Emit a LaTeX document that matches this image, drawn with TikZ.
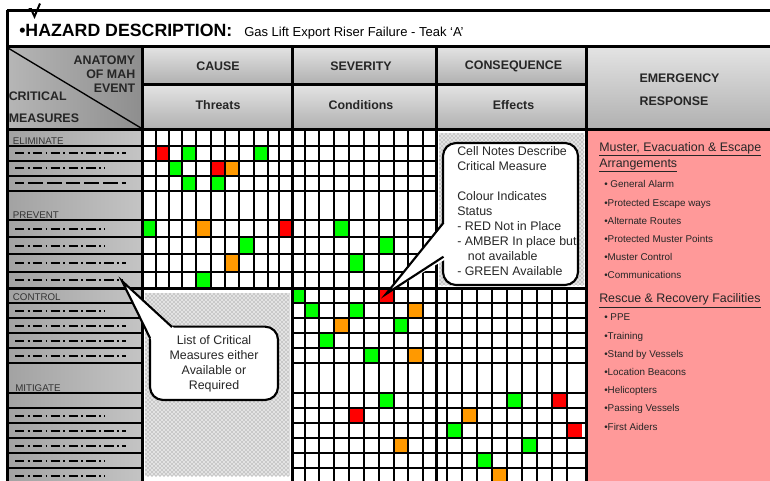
\documentclass[tikz,border=0pt]{standalone}
\usepackage{fontspec}
\setmainfont{Liberation Sans}
\usetikzlibrary{patterns}

\definecolor{hdrlight}{HTML}{E4E4E4}
\definecolor{hdrdark}{HTML}{B0B0B0}
\definecolor{sidelight}{HTML}{C4C4C4}
\definecolor{sidedark}{HTML}{A2A2A2}
\definecolor{cornerlight}{HTML}{B6B6B6}
\definecolor{cornerdark}{HTML}{8E8E8E}
\definecolor{erpink}{HTML}{FF9999}
\definecolor{stRed}{HTML}{FF0000}
\definecolor{stAmber}{HTML}{FF9900}
\definecolor{stGreen}{HTML}{00FF00}
\definecolor{sidetext}{HTML}{333333}

\tikzset{
  gridln/.style={line width=1.5pt},
  heavy/.style={line width=2.25pt},
  hdr/.style={inner sep=0pt, font=\fontsize{9.3}{10.5}\selectfont\bfseries, text=black!85},
  sidelabel/.style={anchor=base west, inner sep=0pt, font=\fontsize{7.3}{9}\selectfont, text=sidetext},
  ddash/.style={line width=1.5pt, dash pattern=on 7pt off 2.5pt on 1.4pt off 2.5pt},
  ldash/.style={line width=1.5pt, dash pattern=on 11pt off 3pt, dash phase=4pt},
  ertitle/.style={anchor=base west, inner sep=0pt, font=\fontsize{9.3}{11}\selectfont, text=black!85},
  eritem/.style={anchor=base west, inner sep=0pt, font=\fontsize{7.4}{9}\selectfont, text=black!85},
  note/.style={draw, line width=1.6pt, fill=white, rounded corners=9.75pt},
  notetext/.style={font=\fontsize{9.3}{11.25}\selectfont, text=black!85},
  stipple/.style={pattern=crosshatch dots, pattern color=gray!90!black},
}

\begin{document}
\begin{tikzpicture}[x=0.75pt,y=-0.75pt]

\useasboundingbox (0,0) rectangle (770,480);
\clip (0,0) rectangle (770,480);
\fill[white] (0,0) rectangle (770,480);

% header and side shading
\shade[left color=cornerlight,right color=cornerdark] (7,46) rectangle (142,129);
\shade[top color=hdrlight,bottom color=hdrdark] (142,46) rectangle (586,84);
\shade[top color=hdrlight,bottom color=hdrdark] (142,84) rectangle (586,129);
\shade[top color=hdrlight,bottom color=hdrdark] (586,46) rectangle (770,129);
\shade[left color=sidedark,right color=sidelight] (7,129) rectangle (142,483);
\fill[erpink] (586,129) rectangle (770,483);

% stippled blocks
\fill[gray!22] (439,133) rectangle (584,285);
\fill[stipple] (439,133) rectangle (584,285);
\fill[gray!22] (145,293) rectangle (289.5,476);
\fill[stipple] (145,293) rectangle (289.5,476);

% status cells
\foreach \c/\xa/\ya/\xb/\yb in {
  stRed/155.7/145.5/169.3/160.5, stGreen/182.3/145.5/196/160.5,
  stGreen/254/145.5/267.7/160.5, stGreen/169.3/160.5/182.3/175.5,
  stRed/210.7/160.5/225/175.5, stAmber/225/160.5/239.3/175.5,
  stGreen/182.3/175.5/196/191, stGreen/210.7/175.5/225/191,
  stGreen/142/220/155.7/237, stAmber/196/220/210.7/237,
  stRed/279.3/220/292/237, stGreen/239.3/237/254/254,
  stAmber/225/254/239.3/271.5, stGreen/196/271.5/210.7/288,
  stGreen/334/220/349.3/237, stGreen/379.3/237/394/254,
  stGreen/349.3/254/364.3/271.5, stGreen/292/288/305/303,
  stRed/379.3/288/394/303, stGreen/305/303/319.3/318,
  stGreen/349.3/303/364.3/318, stAmber/408.3/303/422.7/318,
  stAmber/334/318/349.3/333, stGreen/394/318/408.3/333,
  stGreen/319.3/333/334/348, stGreen/364.3/348/379.3/363,
  stAmber/408.3/348/422.7/363, stGreen/379.3/393/394/408,
  stRed/349.3/408/364.3/423, stAmber/394/438/408.3/453,
  stGreen/506.7/393/521.7/408, stRed/551.7/393/566.7/408,
  stAmber/461.7/408/476.7/423, stGreen/446.7/423/461.7/438,
  stRed/566.7/423/582/438, stGreen/521.7/438/536.7/453,
  stGreen/476.7/453/491.7/468, stAmber/491.7/468/506.7/483}
  \fill[\c] (\xa,\ya) rectangle (\xb,\yb);

% grid
\foreach \x in {155.7,169.3,182.3,196,210.7,225,239.3,254,267.7,279.3}
  \draw[gridln] (\x,129) -- (\x,288);
\foreach \x in {305,319.3,334,349.3,364.3,379.3,394,408.3,422.7}
  \draw[gridln] (\x,129) -- (\x,483);
\foreach \x in {446.7,461.7,476.7,491.7,506.7,521.7,536.7,551.7,566.7}
  \draw[gridln] (\x,288) -- (\x,483);
\foreach \y in {145.5,160.5,175.5,191,220,237,254,271.5}
  \draw[gridln] (7,\y) -- (436,\y);
\foreach \y in {303,318,333,348,363,393,408,423,438,453,468} {
  \draw[gridln] (7,\y) -- (142,\y);
  \draw[gridln] (292,\y) -- (586,\y);
}

% frame
\draw[heavy] (7,10) -- (770,10);
\draw[heavy] (7,10) -- (7,483);
\draw[heavy] (7,46) -- (770,46);
\draw[heavy] (142,84) -- (586,84);
\draw[heavy] (7,129) -- (770,129);
\draw[heavy] (7,288) -- (586,288);
\foreach \x in {142,292,436,586}
  \draw[heavy] (\x,46) -- (\x,483);
\draw[line width=1pt] (8,48) -- (141,128);

% tick over the frame
\draw[line width=1.5pt, line join=miter] (28.5,9) -- (31,9) -- (34.5,16.5) -- (40,3.5);

% measure placeholders
\foreach \y/\e/\s in {153/126/ddash, 168/105/ddash, 183.3/126/ldash,
  228.5/105/ddash, 245.5/105/ddash, 262.8/126/ddash, 279.8/123/ddash,
  310.5/105/ddash, 325.5/126/ddash, 340.5/126/ddash, 355.5/126/ddash,
  415.5/105/ddash, 430.5/126/ddash, 445.5/126/ddash, 460.5/105/ddash,
  475.5/105/ddash}
  \draw[\s] (15,\y) -- (\e,\y);

\node[sidelabel] (elim) at (12.7,144) {ELIMINATE};
\node[sidelabel] (prev) at (12.7,218.3) {PREVENT};
\node[sidelabel] (ctrl) at (12.7,300.7) {CONTROL};
\node[sidelabel] (miti) at (15,391) {MITIGATE};

% title
\node[anchor=base west, inner sep=0pt, font=\fontsize{13.3}{15}\selectfont\bfseries] (hazard) at (19,36) {•HAZARD DESCRIPTION:};
\node[anchor=base west, inner sep=0pt, font=\fontsize{9.75}{12}\selectfont] (riser) at (244,36) {Gas Lift Export Riser Failure - Teak ‘A’};

% headings
\node[hdr, anchor=east] (anatomy) at (135.5,59.8) {ANATOMY};
\node[hdr, anchor=east] (ofmah) at (135.5,74.2) {OF MAH};
\node[hdr, anchor=east] (event) at (135.5,88.3) {EVENT};
\node[hdr, anchor=west] (critical) at (8.5,96.7) {CRITICAL};
\node[hdr, anchor=west] (measures) at (8.5,118.2) {MEASURES};
\node[hdr] (cause) at (218,66.7) {CAUSE};
\node[hdr] (threats) at (218,105.5) {Threats};
\node[hdr] (severity) at (361,66.7) {SEVERITY};
\node[hdr] (conditions) at (361,105.5) {Conditions};
\node[hdr] (consequence) at (513.5,66.7) {CONSEQUENCE};
\node[hdr] (effects) at (513.5,105.5) {Effects};
\node[hdr, anchor=west] (emergency) at (639.3,78.7) {EMERGENCY};
\node[hdr, anchor=west] (response) at (639.3,101) {RESPONSE};

% emergency response
\node[ertitle] (muster) at (599,151) {\underline{Muster, Evacuation \& Escape}};
\node[ertitle] (arrange) at (599,167) {\underline{Arrangements}};
\foreach \txt [count=\i] in {• General Alarm, •Protected Escape ways,
  •Alternate Routes, •Protected Muster Points, •Muster Control,
  •Communications}
  \node[eritem] (mus\i) at (604,169.6+18.2*\i) {\txt};
\node[ertitle] (rescue) at (599,302.7) {\underline{Rescue \& Recovery Facilities}};
\foreach \txt [count=\i] in {• PPE, •Training, •Stand by Vessels,
  •Location Beacons, •Helicopters, •Passing Vessels, •First Aiders}
  \node[eritem] (res\i) at (604,302.6+18.2*\i) {\txt};

% callouts
\node[note, minimum width=101.25pt, minimum height=106.5pt] (notesbox) at (510.5,214) {};
\node[notetext, anchor=west, align=left, inner sep=0pt] (notes) at (457,210.7)
  {Cell Notes Describe\\Critical Measure\\[11.25pt]Colour Indicates\\Status\\- RED Not in Place\\- AMBER In place but\\\hspace*{8pt}not available\\- GREEN Available};
\coordinate (redtip) at (386,294);
\fill[white] (446,221) -- (redtip) -- (446,259) -- cycle;
\draw[line width=1.6pt] (443.5,222.7) -- (redtip) -- (443.5,256.7);

\node[note, notetext, align=center, minimum width=96pt, minimum height=55pt] (listnote) at (214,363.3)
  {List of Critical\\Measures either\\Available or\\Required};
\coordinate (listtip) at (122,281);
\fill[white] (listtip) -- (175,329) -- (152,341) -- cycle;
\draw[line width=1.6pt] (172,327) -- (listtip) -- (150,338);

\end{tikzpicture}
\end{document}
